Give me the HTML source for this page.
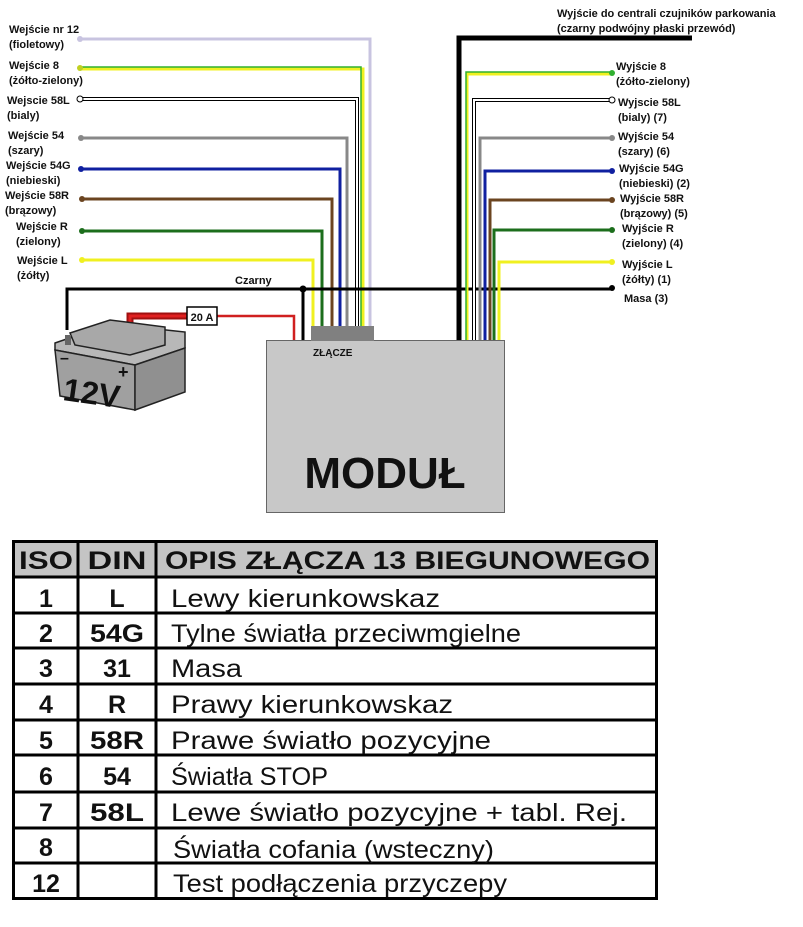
<!DOCTYPE html>
<html><head><meta charset="utf-8"><style>
html,body{margin:0;padding:0;background:#fff;width:803px;height:927px;overflow:hidden}
svg{display:block}
text{font-family:"Liberation Sans",Arial,sans-serif}
.s{font-size:11px;font-weight:bold;fill:#111}
.t{font-size:25px;fill:#111}
.b{font-size:25px;font-weight:bold;fill:#111}
</style></head><body>
<svg width="803" height="927" viewBox="0 0 803 927" xmlns="http://www.w3.org/2000/svg">
<g fill="none" stroke-linejoin="miter">
<polyline points="80,39 370,39 370,327" stroke="#c8c4e0" stroke-width="3"/>
<polyline points="80,69 363,69 363,327" stroke="#f0f020" stroke-width="3"/>
<polyline points="80,67 361,67 361,327" stroke="#30b030" stroke-width="1.5"/>
<polyline points="80,99 357,99 357,327" stroke="#000" stroke-width="4"/>
<polyline points="80,99 357,99 357,327" stroke="#fff" stroke-width="2"/>
<polyline points="80,138 347,138 347,327" stroke="#888" stroke-width="3"/>
<polyline points="80,169 340,169 340,327" stroke="#1020a0" stroke-width="3"/>
<polyline points="80,199 332,199 332,327" stroke="#6b4420" stroke-width="3"/>
<polyline points="80,231 322,231 322,327" stroke="#1c6e1c" stroke-width="3"/>
<polyline points="80,260 313,260 313,327" stroke="#f0f020" stroke-width="3"/>
<polyline points="67,330 67,289 612,289" stroke="#000" stroke-width="3"/>
<line x1="303" y1="289" x2="303" y2="340" stroke="#000" stroke-width="3"/>
<polyline points="459,340 459,38 692,38" stroke="#000" stroke-width="5"/>
<polyline points="612,74 467,74 467,340" stroke="#f0f020" stroke-width="3"/>
<polyline points="612,72 466,72 466,340" stroke="#30b030" stroke-width="1.5"/>
<polyline points="612,100 474,100 474,340" stroke="#000" stroke-width="4"/>
<polyline points="612,100 474,100 474,340" stroke="#fff" stroke-width="2"/>
<polyline points="612,138 480,138 480,340" stroke="#888" stroke-width="3"/>
<polyline points="612,171 485,171 485,340" stroke="#1020a0" stroke-width="3"/>
<polyline points="612,200 490,200 490,340" stroke="#6b4420" stroke-width="3"/>
<polyline points="612,230 494,230 494,340" stroke="#1c6e1c" stroke-width="3"/>
<polyline points="612,262 499,262 499,340" stroke="#f0f020" stroke-width="3"/>
<polyline points="217,316 294,316 294,340" stroke="#d02020" stroke-width="2.5"/>
<polyline points="130,352 130,316 187,316" stroke="#a01010" stroke-width="7"/>
<polyline points="130,352 130,316 187,316" stroke="#e02020" stroke-width="3"/>
</g>
<g>
<circle cx="80" cy="39" r="3" fill="#c8c4e0"/>
<circle cx="80" cy="68" r="3" fill="#c0d020"/>
<circle cx="80" cy="99" r="3" fill="#fff" stroke="#000"/>
<circle cx="81" cy="138" r="3" fill="#888"/>
<circle cx="81" cy="169" r="3" fill="#1020a0"/>
<circle cx="82" cy="199" r="3" fill="#6b4420"/>
<circle cx="82" cy="231" r="3" fill="#1c6e1c"/>
<circle cx="82" cy="260" r="3" fill="#f0f020"/>
<circle cx="303" cy="289" r="3.5" fill="#000"/>
<circle cx="612" cy="73" r="3" fill="#30b030"/>
<circle cx="612" cy="100" r="3" fill="#fff" stroke="#000"/>
<circle cx="612" cy="138" r="3" fill="#888"/>
<circle cx="612" cy="171" r="3" fill="#1020a0"/>
<circle cx="612" cy="200" r="3" fill="#6b4420"/>
<circle cx="612" cy="230" r="3" fill="#1c6e1c"/>
<circle cx="612" cy="262" r="3" fill="#f0f020"/>
<circle cx="612" cy="288" r="3" fill="#000"/>
</g>
<rect x="187" y="307" width="30" height="18" fill="#fff" stroke="#000" stroke-width="1.5"/>
<text x="202" y="321" class="s" text-anchor="middle">20 A</text>
<rect x="266.5" y="340.5" width="238" height="172" fill="#c8c8c8" stroke="#666"/>
<rect x="311" y="326" width="63" height="15" fill="#808080"/>
<text x="313" y="356" class="s" style="font-size:10px">ZŁĄCZE</text>
<text x="385" y="488" text-anchor="middle" style="font-size:44px;font-weight:bold;fill:#111">MODUŁ</text>
<g stroke="#222" stroke-width="1.5">
<polygon points="55,343 110,324 185,332 185,348 135,365 55,350" fill="#b8b8b8"/>
<polygon points="70,333 110,320 165,327 165,345 130,355 75,345" fill="#a8a8a8"/>
<polygon points="55,350 135,365 135,410 60,396" fill="#a0a0a0"/>
<polygon points="135,365 185,348 185,392 135,410" fill="#909090"/>
</g>
<rect x="65" y="335" width="6" height="10" fill="#666"/>
<text x="62" y="400" style="font-size:32px;font-weight:bold;fill:#111" transform="rotate(8 62 400)">12V</text>
<text x="118" y="378" style="font-size:18px;font-weight:bold;fill:#111">+</text>
<text x="60" y="363" style="font-size:16px;font-weight:bold;fill:#111">–</text>
<g class="s">
<text x="9" y="33" class="s">Wejście nr 12</text><text x="9" y="48" class="s">(fioletowy)</text>
<text x="9" y="69" class="s">Wejście 8</text><text x="9" y="84" class="s">(żółto-zielony)</text>
<text x="7" y="104" class="s">Wejscie 58L</text><text x="7" y="119" class="s">(bialy)</text>
<text x="8" y="139" class="s">Wejście 54</text><text x="8" y="154" class="s">(szary)</text>
<text x="6" y="169" class="s">Wejście 54G</text><text x="6" y="184" class="s">(niebieski)</text>
<text x="5" y="199" class="s">Wejście 58R</text><text x="5" y="214" class="s">(brązowy)</text>
<text x="16" y="230" class="s">Wejście R</text><text x="16" y="245" class="s">(zielony)</text>
<text x="17" y="264" class="s">Wejście L</text><text x="17" y="279" class="s">(żółty)</text>
<text x="235" y="284" class="s">Czarny</text>
<text x="557" y="17" class="s">Wyjście do centrali czujników parkowania</text>
<text x="557" y="32" class="s">(czarny podwójny płaski przewód)</text>
<text x="616" y="70" class="s">Wyjście 8</text><text x="616" y="85" class="s">(żółto-zielony)</text>
<text x="618" y="106" class="s">Wyjscie 58L</text><text x="618" y="121" class="s">(bialy) (7)</text>
<text x="618" y="140" class="s">Wyjście 54</text><text x="618" y="155" class="s">(szary) (6)</text>
<text x="619" y="172" class="s">Wyjście 54G</text><text x="619" y="187" class="s">(niebieski) (2)</text>
<text x="620" y="202" class="s">Wyjście 58R</text><text x="620" y="217" class="s">(brązowy) (5)</text>
<text x="622" y="232" class="s">Wyjście R</text><text x="622" y="247" class="s">(zielony) (4)</text>
<text x="622" y="268" class="s">Wyjście L</text><text x="622" y="283" class="s">(żółty) (1)</text>
<text x="624" y="302" class="s">Masa (3)</text>
</g>
<rect x="13" y="541" width="643" height="36" fill="#c4c4c4"/>
<g stroke="#000" stroke-width="3" fill="none">
<rect x="13.5" y="541.5" width="643" height="357"/>
<line x1="78" y1="541" x2="78" y2="899"/>
<line x1="156" y1="541" x2="156" y2="899"/>
<line x1="13" y1="577" x2="656" y2="577"/>
<line x1="13" y1="613" x2="656" y2="613"/>
<line x1="13" y1="648" x2="656" y2="648"/>
<line x1="13" y1="684" x2="656" y2="684"/>
<line x1="13" y1="720" x2="656" y2="720"/>
<line x1="13" y1="755" x2="656" y2="755"/>
<line x1="13" y1="792" x2="656" y2="792"/>
<line x1="13" y1="828" x2="656" y2="828"/>
<line x1="13" y1="863" x2="656" y2="863"/>
</g>
<g text-anchor="middle">
<text x="46" y="569" class="b" textLength="54" lengthAdjust="spacingAndGlyphs">ISO</text>
<text x="117" y="569" class="b" textLength="59" lengthAdjust="spacingAndGlyphs">DIN</text>
<text x="46" y="607" class="b">1</text><text x="117" y="607" class="b">L</text>
<text x="46" y="642" class="b">2</text><text x="117" y="642" class="b" textLength="54" lengthAdjust="spacingAndGlyphs">54G</text>
<text x="46" y="677" class="b">3</text><text x="117" y="677" class="b">31</text>
<text x="46" y="713" class="b">4</text><text x="117" y="713" class="b">R</text>
<text x="46" y="749" class="b">5</text><text x="117" y="749" class="b" textLength="54" lengthAdjust="spacingAndGlyphs">58R</text>
<text x="46" y="785" class="b">6</text><text x="117" y="785" class="b">54</text>
<text x="46" y="821" class="b">7</text><text x="117" y="821" class="b" textLength="54" lengthAdjust="spacingAndGlyphs">58L</text>
<text x="46" y="856" class="b">8</text>
<text x="46" y="892" class="b">12</text>
</g>
<text x="165" y="569" class="b" textLength="485" lengthAdjust="spacingAndGlyphs">OPIS ZŁĄCZA  13 BIEGUNOWEGO</text>
<text x="171" y="607" class="t" textLength="269" lengthAdjust="spacingAndGlyphs">Lewy kierunkowskaz</text>
<text x="171" y="642" class="t" textLength="350" lengthAdjust="spacingAndGlyphs">Tylne światła przeciwmgielne</text>
<text x="171" y="677" class="t" textLength="71" lengthAdjust="spacingAndGlyphs">Masa</text>
<text x="171" y="713" class="t" textLength="282" lengthAdjust="spacingAndGlyphs">Prawy kierunkowskaz</text>
<text x="171" y="749" class="t" textLength="320" lengthAdjust="spacingAndGlyphs">Prawe światło pozycyjne</text>
<text x="171" y="785" class="t" textLength="157" lengthAdjust="spacingAndGlyphs">Światła STOP</text>
<text x="171" y="821" class="t" textLength="456" lengthAdjust="spacingAndGlyphs">Lewe światło pozycyjne + tabl. Rej.</text>
<text x="173" y="858" class="t" textLength="321" lengthAdjust="spacingAndGlyphs">Światła cofania (wsteczny)</text>
<text x="173" y="892" class="t" textLength="334" lengthAdjust="spacingAndGlyphs">Test podłączenia przyczepy</text>
</svg>
</body></html>
